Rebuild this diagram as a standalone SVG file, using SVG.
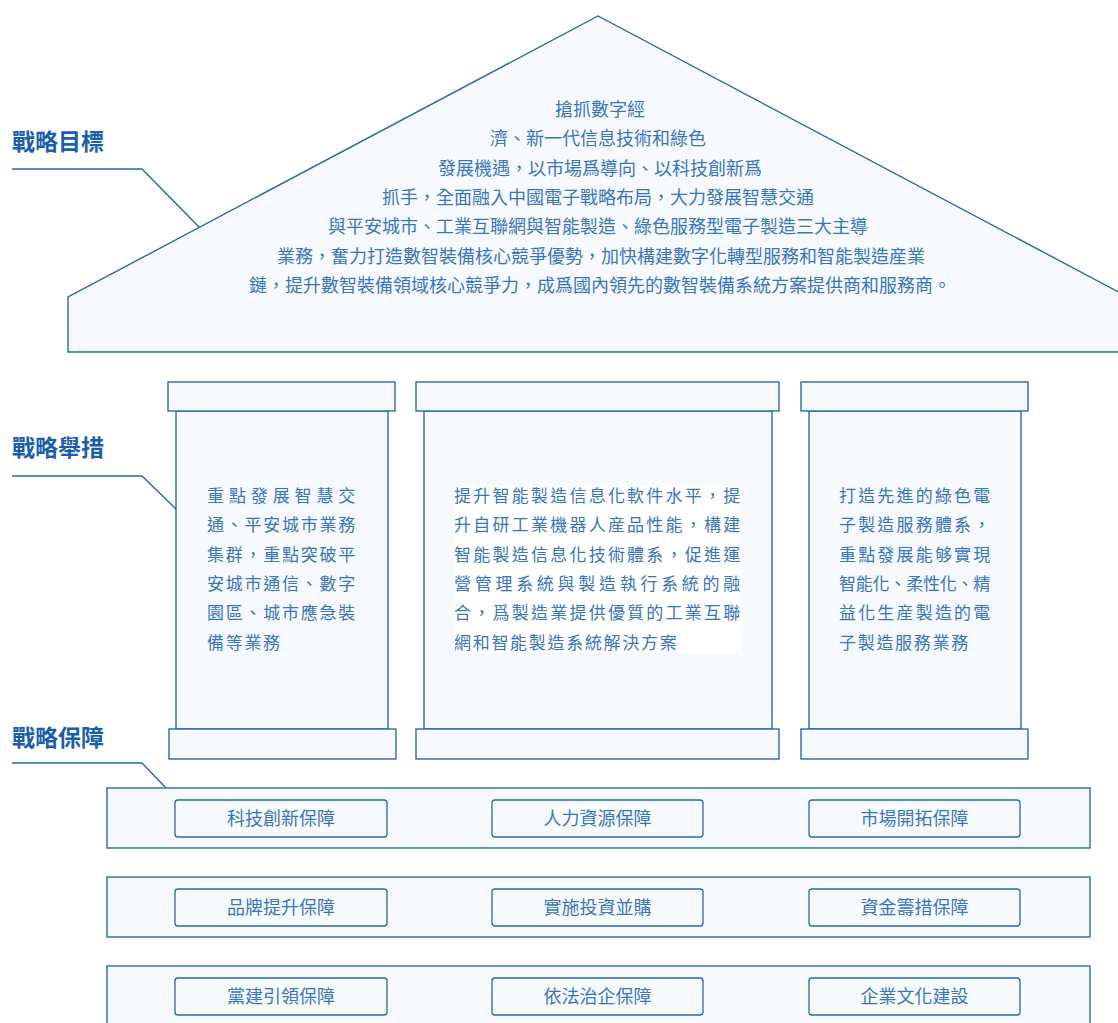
<svg xmlns="http://www.w3.org/2000/svg" width="1118" height="1023" viewBox="0 0 1118 1023">
<style>
.shape{fill:#f6f9fd;stroke:#2a68b1;stroke-width:1.4}
.lead{fill:none;stroke:#2a68b1;stroke-width:1.4}
.lbl{font-family:"Noto Sans CJK TC","Noto Sans CJK SC",sans-serif;font-size:23px;font-weight:bold;fill:#1a5fab}
.t{font-family:"Noto Sans CJK TC","Noto Sans CJK SC",sans-serif;font-size:18px;fill:#3a76bb}
.p{font-family:"Noto Sans CJK TC","Noto Sans CJK SC",sans-serif;font-size:17px;fill:#3a76bb;letter-spacing:1.7px}
.pill{fill:#f7fafd;stroke:#2a68b1;stroke-width:1.3}
</style>
<rect width="1118" height="1023" fill="#ffffff"/>
<g id="connectors">
<polyline class="lead" points="12,169 142,169 200,228"/>
<polyline class="lead" points="12,476 142,476 176,509"/>
<polyline class="lead" points="12,763 142,763 166,788"/>
</g>
<g id="labels">
<text class="lbl" x="12" y="150">戰略目標</text>
<text class="lbl" x="12" y="456">戰略舉措</text>
<text class="lbl" x="12" y="746">戰略保障</text>
</g>
<g id="roof">
<polygon class="shape" points="68,352 68,297 598,16 1128,297 1128,352"/>
<g class="t" text-anchor="middle">
<text x="600" y="116">搶抓數字經</text>
<text x="598" y="145">濟、新一代信息技術和綠色</text>
<text x="600" y="175">發展機遇，以市場爲導向、以科技創新爲</text>
<text x="598" y="204">抓手，全面融入中國電子戰略布局，大力發展智慧交通</text>
<text x="598" y="233">與平安城市、工業互聯網與智能製造、綠色服務型電子製造三大主導</text>
<text x="601" y="263">業務，奮力打造數智裝備核心競爭優勢，加快構建數字化轉型服務和智能製造産業</text>
<text x="600" y="292">鏈，提升數智裝備領域核心競爭力，成爲國內領先的數智裝備系統方案提供商和服務商。</text>
</g>
</g>
<g id="pillar-left">
<rect class="shape" x="176" y="411" width="212" height="318"/>
<rect class="shape" x="168" y="382" width="227" height="29"/>
<rect class="shape" x="169" y="729" width="227" height="30"/>
<g class="p">
<text x="207" y="502" textLength="150" lengthAdjust="spacing">重點發展智慧交</text>
<text x="207" y="531" textLength="150" lengthAdjust="spacing">通、平安城市業務</text>
<text x="207" y="561" textLength="150" lengthAdjust="spacing">集群，重點突破平</text>
<text x="207" y="590" textLength="150" lengthAdjust="spacing">安城市通信、數字</text>
<text x="207" y="619" textLength="150" lengthAdjust="spacing">園區、城市應急裝</text>
<text x="207" y="649">備等業務</text>
</g>
</g>
<g id="pillar-middle">
<rect class="shape" x="424" y="411" width="348" height="318"/>
<rect class="shape" x="416" y="382" width="363" height="29"/>
<rect class="shape" x="416" y="729" width="363" height="30"/>
<rect x="454" y="485" width="288" height="168" fill="#ffffff"/>
<g class="p">
<text x="454" y="502" textLength="288" lengthAdjust="spacing">提升智能製造信息化軟件水平，提</text>
<text x="454" y="531" textLength="288" lengthAdjust="spacing">升自研工業機器人産品性能，構建</text>
<text x="454" y="561" textLength="288" lengthAdjust="spacing">智能製造信息化技術體系，促進運</text>
<text x="454" y="590" textLength="288" lengthAdjust="spacing">營管理系統與製造執行系統的融</text>
<text x="454" y="619" textLength="288" lengthAdjust="spacing">合，爲製造業提供優質的工業互聯</text>
<text x="454" y="649">網和智能製造系統解決方案</text>
</g>
</g>
<g id="pillar-right">
<rect class="shape" x="809" y="411" width="212" height="318"/>
<rect class="shape" x="801" y="382" width="227" height="29"/>
<rect class="shape" x="801" y="729" width="227" height="30"/>
<g class="p">
<text x="839" y="502" textLength="153" lengthAdjust="spacing">打造先進的綠色電</text>
<text x="839" y="531" textLength="153" lengthAdjust="spacing">子製造服務體系，</text>
<text x="839" y="561" textLength="153" lengthAdjust="spacing">重點發展能够實現</text>
<text x="839" y="590" textLength="153" lengthAdjust="spacing">智能化、柔性化、精</text>
<text x="839" y="619" textLength="153" lengthAdjust="spacing">益化生産製造的電</text>
<text x="839" y="649">子製造服務業務</text>
</g>
</g>
<g id="band-1">
<rect class="shape" x="107" y="788" width="983" height="60"/>
<rect class="pill" x="175" y="800" width="212" height="37" rx="3"/>
<rect class="pill" x="492" y="800" width="211" height="37" rx="3"/>
<rect class="pill" x="809" y="800" width="211" height="37" rx="3"/>
<g class="t" text-anchor="middle">
<text x="281" y="825">科技創新保障</text>
<text x="597.5" y="825">人力資源保障</text>
<text x="914.5" y="825">市場開拓保障</text>
</g>
</g>
<g id="band-2">
<rect class="shape" x="107" y="877" width="983" height="60"/>
<rect class="pill" x="175" y="889" width="212" height="37" rx="3"/>
<rect class="pill" x="492" y="889" width="211" height="37" rx="3"/>
<rect class="pill" x="809" y="889" width="211" height="37" rx="3"/>
<g class="t" text-anchor="middle">
<text x="281" y="914">品牌提升保障</text>
<text x="597.5" y="914">實施投資並購</text>
<text x="914.5" y="914">資金籌措保障</text>
</g>
</g>
<g id="band-3">
<rect class="shape" x="107" y="966" width="983" height="70"/>
<rect class="pill" x="175" y="978" width="212" height="37" rx="3"/>
<rect class="pill" x="492" y="978" width="211" height="37" rx="3"/>
<rect class="pill" x="809" y="978" width="211" height="37" rx="3"/>
<g class="t" text-anchor="middle">
<text x="281" y="1003">黨建引領保障</text>
<text x="597.5" y="1003">依法治企保障</text>
<text x="914.5" y="1003">企業文化建設</text>
</g>
</g>
</svg>
